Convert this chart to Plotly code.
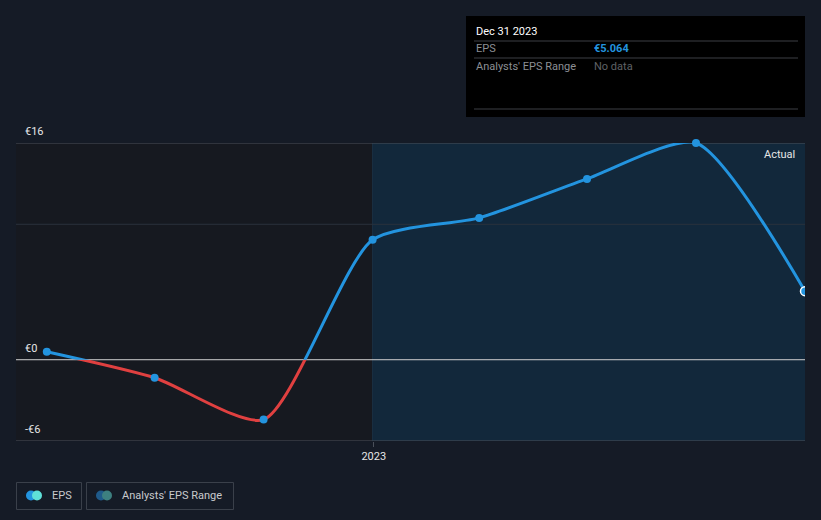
import plotly.graph_objects as go

# ---- data ----
dates = ["2022-03-31", "2022-06-30", "2022-09-30", "2022-12-31",
         "2023-03-31", "2023-06-30", "2023-09-30", "2023-12-31"]
eps = [0.59, -1.33, -4.42, 8.85, 10.47, 13.35, 16.0, 5.064]
y_ticks = [16, 0, -6]
y_tick_labels = ["€16", "€0", "-€6"]
x_tick_vals = ["2023-01-01"]
x_tick_labels = ["2023"]

W, H = 821, 520
ML, MR, MT, MB = 16, 16, 143, 79
PW, PH = W - ML - MR, H - MT - MB

def px(x):
    return (x - ML) / PW

def py(y):
    return (H - MB - y) / PH

BLUE = "#2394df"
RED = "#e04040"
BG = "#151b26"
SMOOTH = 0.65
ZERO_FRAC = 6 / 22

fig = go.Figure()

# red line: negative area only (y2 covers -6..0)
fig.add_trace(go.Scatter(x=dates, y=eps, mode="lines", yaxis="y2",
                         line=dict(color=RED, width=3, shape="spline", smoothing=SMOOTH),
                         hoverinfo="skip", showlegend=False))
# blue line: positive area only (y3 covers 0..16)
fig.add_trace(go.Scatter(x=dates, y=eps, mode="lines", yaxis="y3",
                         line=dict(color=BLUE, width=3, shape="spline", smoothing=SMOOTH),
                         hoverinfo="skip", showlegend=False))
# markers
neg_x = [d for d, v in zip(dates[:-1], eps[:-1]) if v < 0]
neg_y = [v for v in eps[:-1] if v < 0]
pos_x = [d for d, v in zip(dates[:-1], eps[:-1]) if v >= 0]
pos_y = [v for v in eps[:-1] if v >= 0]
fig.add_trace(go.Scatter(x=neg_x, y=neg_y, mode="markers", yaxis="y2", cliponaxis=False,
                         marker=dict(color=BLUE, size=8),
                         hoverinfo="skip", showlegend=False))
fig.add_trace(go.Scatter(x=pos_x, y=pos_y, mode="markers", yaxis="y3", cliponaxis=False,
                         marker=dict(color=BLUE, size=8),
                         hoverinfo="skip", showlegend=False))
fig.add_trace(go.Scatter(x=dates[-1:], y=eps[-1:], mode="markers", yaxis="y3",
                         marker=dict(color=BLUE, size=9, line=dict(color="white", width=1.5)),
                         hoverinfo="skip", showlegend=False))

shapes = []
# past region (darker) and forecast-shaded region
shapes.append(dict(type="rect", xref="x", yref="paper", x0="2022-03-05", x1="2022-12-31",
                   y0=0, y1=1, fillcolor="#161920", line_width=0, layer="below"))
shapes.append(dict(type="rect", xref="x", yref="paper", x0="2022-12-31", x1="2023-12-31",
                   y0=0, y1=1, fillcolor="#12283b", line_width=0, layer="below"))
shapes.append(dict(type="line", xref="x", yref="paper", x0="2022-12-31", x1="2022-12-31",
                   y0=0, y1=1, line=dict(color="#1b3043", width=1), layer="below"))
# grid lines
shapes.append(dict(type="line", xref="paper", yref="y", x0=0, x1=1, y0=16, y1=16,
                   line=dict(color="#4a505a", width=1), layer="below"))
shapes.append(dict(type="line", xref="paper", yref="y", x0=0, x1=1, y0=10, y1=10,
                   line=dict(color="#2a323d", width=1), layer="below"))
shapes.append(dict(type="line", xref="paper", yref="y", x0=0, x1=1, y0=0, y1=0,
                   line=dict(color="#d0d0d0", width=1), layer="below"))
shapes.append(dict(type="line", xref="paper", yref="y", x0=0, x1=1, y0=-6, y1=-6,
                   line=dict(color="#4a505a", width=1), layer="below"))

# tooltip box
shapes.append(dict(type="rect", xref="paper", yref="paper", x0=px(466), x1=px(805),
                   y0=py(117), y1=py(16), fillcolor="#000000", line_width=0))
for yy in (41, 58, 109):
    shapes.append(dict(type="line", xref="paper", yref="paper", x0=px(474), x1=px(798),
                       y0=py(yy), y1=py(yy), line=dict(color="#3c3f44", width=1)))

# legend boxes
shapes.append(dict(type="rect", xref="paper", yref="paper", x0=px(16.5), x1=px(81.5),
                   y0=py(509.5), y1=py(482.5), line=dict(color="#3a404a", width=1),
                   fillcolor="rgba(0,0,0,0)"))
shapes.append(dict(type="rect", xref="paper", yref="paper", x0=px(86.5), x1=px(233.5),
                   y0=py(509.5), y1=py(482.5), line=dict(color="#3a404a", width=1),
                   fillcolor="rgba(0,0,0,0)"))
for cx, col in ((31, "#2394df"), (37, "#5fe0d8"), (101, "#1f5a8a"), (107, "#3d8080")):
    shapes.append(dict(type="circle", xref="paper", yref="paper",
                       xsizemode="pixel", ysizemode="pixel",
                       xanchor=px(cx), yanchor=py(495.5),
                       x0=-5, x1=5, y0=-5, y1=5,
                       fillcolor=col, line_width=0))

FONT = "Roboto, Inter, sans-serif"
annotations = []
for v, t in zip(y_ticks, y_tick_labels):
    annotations.append(dict(x=0, xref="paper", y=v, yref="y", text=t, showarrow=False,
                            xanchor="left", yanchor="bottom", xshift=7, yshift=3,
                            font=dict(color="#e6e6e6", size=11, family=FONT)))
annotations.append(dict(x=1, xref="paper", y=16, yref="y", text="Actual", showarrow=False,
                        xanchor="right", yanchor="top", xshift=-8, yshift=-3,
                        font=dict(color="#e6e6e6", size=11, family=FONT)))
# tooltip text
annotations.append(dict(x=px(474), xref="paper", y=py(31), yref="paper", text="Dec 31 2023",
                        showarrow=False, xanchor="left", yanchor="middle",
                        font=dict(color="#ffffff", size=11, family=FONT)))
annotations.append(dict(x=px(474), xref="paper", y=py(49), yref="paper", text="EPS",
                        showarrow=False, xanchor="left", yanchor="middle",
                        font=dict(color="#8c8f94", size=11, family=FONT)))
annotations.append(dict(x=px(592), xref="paper", y=py(49), yref="paper", text="<b>€5.064</b>",
                        showarrow=False, xanchor="left", yanchor="middle",
                        font=dict(color=BLUE, size=11, family=FONT)))
annotations.append(dict(x=px(474), xref="paper", y=py(66), yref="paper",
                        text="Analysts' EPS Range",
                        showarrow=False, xanchor="left", yanchor="middle",
                        font=dict(color="#8c8f94", size=11, family=FONT)))
annotations.append(dict(x=px(592), xref="paper", y=py(66), yref="paper", text="No data",
                        showarrow=False, xanchor="left", yanchor="middle",
                        font=dict(color="#5f6266", size=11, family=FONT)))
# legend text
annotations.append(dict(x=px(50), xref="paper", y=py(495.5), yref="paper", text="EPS",
                        showarrow=False, xanchor="left", yanchor="middle",
                        font=dict(color="#c8cacd", size=11, family=FONT)))
annotations.append(dict(x=px(120), xref="paper", y=py(495.5), yref="paper",
                        text="Analysts' EPS Range",
                        showarrow=False, xanchor="left", yanchor="middle",
                        font=dict(color="#c8cacd", size=11, family=FONT)))

fig.update_layout(
    width=W, height=H,
    margin=dict(l=ML, r=MR, t=MT, b=MB, pad=0),
    paper_bgcolor=BG, plot_bgcolor="rgba(0,0,0,0)",
    showlegend=False,
    xaxis=dict(type="date", range=["2022-03-05", "2023-12-31"], showgrid=False,
               zeroline=False, showline=False, tickvals=x_tick_vals, ticktext=x_tick_labels,
               ticks="outside", ticklen=5, tickcolor="#4a505a", tickwidth=1,
               tickfont=dict(color="#e6e6e6", size=11, family=FONT), fixedrange=True),
    yaxis=dict(range=[-6, 16], domain=[0, 1], showgrid=False, zeroline=False,
               showticklabels=False, showline=False, fixedrange=True),
    yaxis2=dict(range=[-6, 0], domain=[0, ZERO_FRAC], anchor="x", showgrid=False,
                zeroline=False, showticklabels=False, showline=False, fixedrange=True),
    yaxis3=dict(range=[0, 16], domain=[ZERO_FRAC, 1], anchor="x", showgrid=False,
                zeroline=False, showticklabels=False, showline=False, fixedrange=True),
    shapes=shapes,
    annotations=annotations,
)

fig.write_html("out.html")
